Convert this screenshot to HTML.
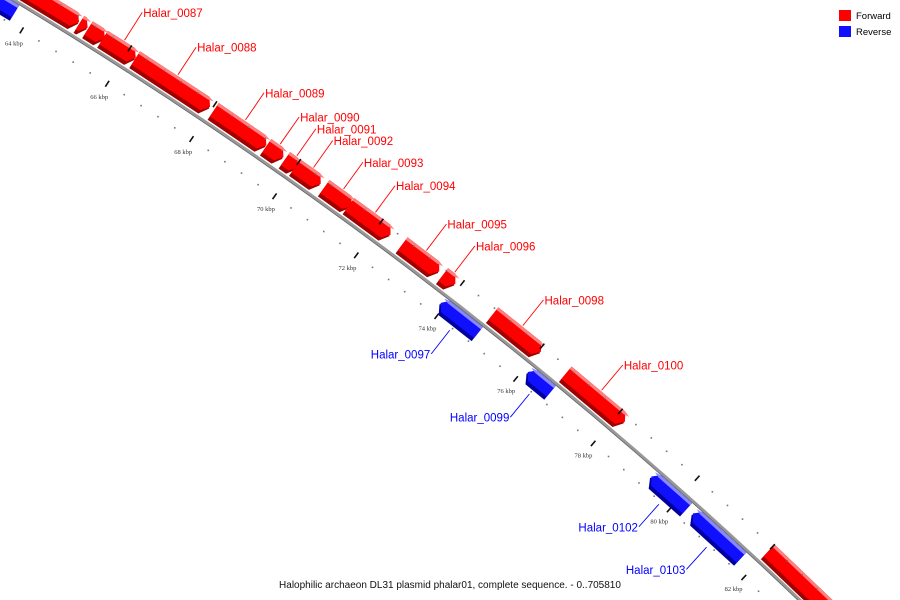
<!DOCTYPE html>
<html><head><meta charset="utf-8"><style>
html,body{margin:0;padding:0;background:#fff;width:900px;height:600px;overflow:hidden;}
svg{display:block;}
</style></head><body>
<svg id="map" width="900" height="600" viewBox="0 0 900 600" xmlns="http://www.w3.org/2000/svg" font-family="Liberation Sans, sans-serif" overflow="hidden">
<rect width="900" height="600" fill="#fff"/>
<g id="ticks"></g>
<g id="backbone"></g>
<g id="genes"></g>
<g id="outerTicks"></g>
<g id="labels"></g>
<g>
<rect x="839" y="10" width="12" height="11" fill="#ff0000"/>
<text x="856" y="19" font-size="9.5" fill="#000">Forward</text>
<rect x="839" y="26" width="12" height="11" fill="#1010ff"/>
<text x="856" y="35" font-size="9.5" fill="#000">Reverse</text>
</g>
<text x="450" y="588" text-anchor="middle" font-size="10" fill="#111">Halophilic archaeon DL31 plasmid phalar01, complete sequence. - 0..705810</text>
</svg>
<script>
// data (bp)
const geneStarts = [63000, 64900, 65100, 65450, 66200, 68050, 69300, 69750, 70000, 70700, 71300, 72600, 73600, 74850, 76700, 82000, 63000, 73900, 76100, 79300, 80400];
const geneEnds   = [64880, 65080, 65480, 66200, 67950, 69290, 69700, 70050, 70600, 71350, 72300, 73500, 73900, 76050, 78200, 84500, 63700, 74850, 76700, 80250, 81700];
const geneStrands = [1,1,1,1,1,1,1,1,1,1,1,1,1,1,1,1,-1,-1,-1,-1,-1];
const geneNames = ["", "", "", "Halar_0087", "Halar_0088", "Halar_0089", "Halar_0090", "Halar_0091", "Halar_0092", "Halar_0093", "Halar_0094", "Halar_0095", "Halar_0096", "Halar_0098", "Halar_0100", "", "", "Halar_0097", "Halar_0099", "Halar_0102", "Halar_0103"];
const majorTicks = [62000, 64000, 66000, 68000, 70000, 72000, 74000, 76000, 78000, 80000, 82000, 84000];
const tickLabels = ["62 kbp","64 kbp","66 kbp","68 kbp","70 kbp","72 kbp","74 kbp","76 kbp","78 kbp","80 kbp","82 kbp","84 kbp"];

const NS = "http://www.w3.org/2000/svg";
const CX = -2301, CY = 3846;
const A0 = -58.67, APB = 0.0006467;
function ang(bp){ return (A0 + (bp - 64000) * APB) * Math.PI / 180; }
function pt(bp, r){ const a = ang(bp); return [CX + r*Math.cos(a), CY + r*Math.sin(a)]; }
function mk(tag, attrs, parent){ const e = document.createElementNS(NS, tag); for (const k in attrs) e.setAttribute(k, attrs[k]); parent.appendChild(e); return e; }
const R_BB = 4489, R_TICK = 4467, R_OUT = 4509, R_LBL = 4452;

const bb = document.getElementById('backbone');
const b1 = pt(61500, R_BB), b2 = pt(84600, R_BB);
const bbp = mk('path', {d:`M${b1[0]},${b1[1]} A${R_BB},${R_BB} 0 0 1 ${b2[0]},${b2[1]}`, fill:'none', stroke:'#999', 'stroke-width':3.2}, bb);


const c1 = pt(61500, R_BB-1.4), c2 = pt(84600, R_BB-1.4);
const bbe = mk('path', {d:`M${c1[0]},${c1[1]} A${R_BB-1.4},${R_BB-1.4} 0 0 1 ${c2[0]},${c2[1]}`, fill:'none', stroke:'#666', 'stroke-width':0.8}, bb);



const tg = document.getElementById('ticks');
const og = document.getElementById('outerTicks');
for (let bp = 61600; bp <= 84400; bp += 400) {
  const isMajor = majorTicks.indexOf(bp) >= 0;
  [[tg, R_TICK], [og, R_OUT]].forEach(([g, r]) => {
    if (isMajor) {
      const p1 = pt(bp, r-3.5), p2 = pt(bp, r+3.5);
      const l = mk('line', {x1:p1[0], y1:p1[1], x2:p2[0], y2:p2[1], stroke:'#111', 'stroke-width':1.6}, g);
      
      
    } else {
      const p = pt(bp, r);
      const d = mk('rect', {x:p[0]-0.8, y:p[1]-0.8, width:1.6, height:1.6, fill:'#777'}, g);
      
      
    }
  });
}
majorTicks.forEach((bp, i) => {
  const p = pt(bp, R_LBL);
  const t = mk('text', {x:p[0], y:p[1]+2.5, 'text-anchor':'middle', 'font-size':6.5, 'font-family':'Liberation Serif, serif', fill:'#333'}, tg);
  t.textContent = tickLabels[i];
  
  
});

const gg = document.getElementById('genes');
const lg = document.getElementById('labels');
function shape(s, e, rin, rout, dir){
  const head = 120;
  const rm = (rin + rout) / 2;
  let pts;
  if (dir > 0) {
    const hb = Math.max(s, e - head);
    pts = [pt(s, rin), pt(s, rout), pt(hb, rout), pt(e, rm), pt(hb, rin)];
  } else {
    const hb = Math.min(e, s + head);
    pts = [pt(s, rm), pt(hb, rout), pt(e, rout), pt(e, rin), pt(hb, rin)];
  }
  return pts.map(p => p[0].toFixed(2)+','+p[1].toFixed(2)).join(' ');
}
for (let i = 0; i < geneStarts.length; i++) {
  const s = geneStarts[i], e = geneEnds[i], dir = geneStrands[i];
  const rin = dir > 0 ? 4492 : 4469;
  const rout = dir > 0 ? 4512 : 4487;
  const cols = dir > 0 ? ['#a00000', '#ff0000', '#ff8080'] : ['#0000a0', '#1010ff', '#8888ff'];
  const g = mk('g', {}, gg);
  
  
  mk('polygon', {points: shape(s, e, rin, rout, dir), fill: cols[0]}, g);
  mk('polygon', {points: shape(s, e, rin+4, rout, dir), fill: cols[1]}, g);
  mk('polygon', {points: shape(s, e, rout-3, rout, dir), fill: cols[2]}, g);
  if (geneNames[i]) {
    const mid = (s + e) / 2;
    const col = dir > 0 ? '#ff0000' : '#0000ff';
    const r1 = dir > 0 ? 4513 : 4464, r2 = dir > 0 ? 4546 : 4434;
    const p1 = pt(mid, r1), p2 = pt(mid, r2);
    const ln = mk('line', {x1:p1[0], y1:p1[1], x2:p2[0], y2:p2[1], stroke:col, 'stroke-width':0.9}, lg);
    
    
    const t = mk('text', {x: dir > 0 ? p2[0]+1 : p2[0]-1, y: p2[1]+4.5, 'text-anchor': dir > 0 ? 'start' : 'end', 'font-size': 11.5, fill: col}, lg);
    t.textContent = geneNames[i];
    
    
  }
}
</script>
</body></html>
